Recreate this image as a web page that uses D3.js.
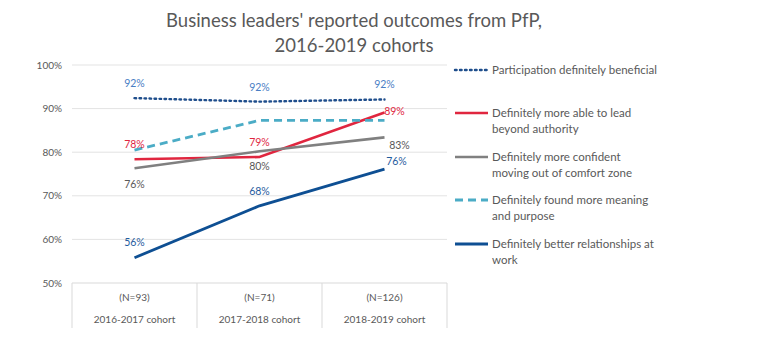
<!DOCTYPE html>
<html lang="en">
<head>
  <meta charset="UTF-8">
  <title>PfP outcomes</title>
  <style>
    html, body { margin: 0; padding: 0; background: #fff; }
    svg { font-family: Lato, "Open Sans", sans-serif; }
    .grid line { stroke: #e3e3e3; }
    .tick-label { fill: #595959; font-size: 10px; }
    .title { fill: #595959; font-size: 18.5px; }
    .cat { fill: #595959; font-size: 10px; }
    .legend text { fill: #595959; font-size: 11.5px; }
    .lbl { font-size: 10.5px; }
  </style>
</head>
<body>
  <script src="https://d3js.org/d3.v7.min.js"></script>
  <script>
    const width = 772, height = 363

    const cohorts = ['2016-2017 cohort', '2017-2018 cohort', '2018-2019 cohort']
    const sampleSizes = ['(N=93)', '(N=71)', '(N=126)']
    const yTicks = [0.5, 0.6, 0.7, 0.8, 0.9, 1.0]

    const beneficial = [0.924, 0.916, 0.921]
    const leadBeyond = [0.784, 0.789, 0.891]
    const confident = [0.763, 0.802, 0.834]
    const meaning = [0.805, 0.873, 0.873]
    const relationships = [0.558, 0.677, 0.761]

    const series = [
      { name: ['Participation definitely beneficial'], values: beneficial, color: '#1f4e8c', dash: '1.6 3.4', width: 2.4, cap: 'round',
        labelColor: '#4a7ec4', labels: [[0, -11], [0, -11], [0, -11]] },
      { name: ['Definitely more able to lead', 'beyond authority'], values: leadBeyond, color: '#e0263f', dash: null, width: 2.6,
        labelColor: '#e0263f', labels: [[0, -11], [0, -11], [10, 2]] },
      { name: ['Definitely more confident', 'moving out of comfort zone'], values: confident, color: '#808080', dash: null, width: 2.6,
        labelColor: '#595959', labels: [[0, 20], [0, 19], [15, 12]] },
      { name: ['Definitely found more meaning', 'and purpose'], values: meaning, color: '#4bacc6', dash: '8 5', width: 2.8,
        labelColor: '#4bacc6', labels: null },
      { name: ['Definitely better relationships at', 'work'], values: relationships, color: '#0e4f93', dash: null, width: 2.8,
        labelColor: '#1f5c9e', labels: [[0, -12], [0, -11], [12, -4]] }
    ]

    const plot = { left: 72, right: 447, top: 65, bottom: 283 }

    const x = d3.scaleBand().domain(cohorts).range([plot.left, plot.right])
    const y = d3.scaleLinear().domain([0.5, 1.0]).range([plot.bottom, plot.top])
    const cx = c => x(c) + x.bandwidth() / 2

    const svg = d3.select('body').append('svg')
      .attr('width', width)
      .attr('height', height)

    // title
    svg.append('text').attr('class', 'title').attr('text-anchor', 'middle')
      .attr('x', 354).attr('y', 27).text("Business leaders' reported outcomes from PfP,")
    svg.append('text').attr('class', 'title').attr('text-anchor', 'middle')
      .attr('x', 354).attr('y', 52).text('2016-2019 cohorts')

    // gridlines + y labels
    const grid = svg.append('g').attr('class', 'grid')
    grid.selectAll('line').data(yTicks).enter().append('line')
      .attr('x1', plot.left).attr('x2', plot.right)
      .attr('y1', d => y(d)).attr('y2', d => y(d))
      .style('stroke', d => d === 0.5 ? '#d9d9d9' : null)
    svg.append('g').selectAll('text').data(yTicks).enter().append('text')
      .attr('class', 'tick-label').attr('text-anchor', 'end')
      .attr('x', plot.left - 10).attr('y', d => y(d) + 3.5)
      .text(d3.format('.0%'))

    // category table
    const bounds = cohorts.map(c => x(c)).concat([plot.right])
    svg.append('g').selectAll('line').data(bounds).enter().append('line')
      .attr('x1', d => d).attr('x2', d => d)
      .attr('y1', plot.bottom).attr('y2', plot.bottom + 45)
      .style('stroke', '#d9d9d9')
    svg.append('g').selectAll('text').data(sampleSizes).enter().append('text')
      .attr('class', 'cat').attr('text-anchor', 'middle')
      .attr('x', (d, i) => cx(cohorts[i])).attr('y', plot.bottom + 18).text(d => d)
    svg.append('g').selectAll('text').data(cohorts).enter().append('text')
      .attr('class', 'cat').attr('text-anchor', 'middle')
      .attr('x', d => cx(d)).attr('y', plot.bottom + 40).text(d => d)

    // lines
    const line = d3.line().x((d, i) => cx(cohorts[i])).y(d => y(d))
    series.forEach(s => {
      svg.append('path').datum(s.values)
        .attr('d', line)
        .attr('fill', 'none')
        .attr('stroke', s.color)
        .attr('stroke-width', s.width)
        .attr('stroke-dasharray', s.dash)
        .attr('stroke-linecap', s.cap || 'butt')
    })

    // data labels
    series.filter(s => s.labels).forEach(s => {
      svg.append('g').selectAll('text').data(s.values).enter().append('text')
        .attr('class', 'lbl').attr('text-anchor', 'middle')
        .attr('fill', s.labelColor)
        .attr('x', (d, i) => cx(cohorts[i]) + s.labels[i][0])
        .attr('y', (d, i) => y(d) + s.labels[i][1])
        .text(d => d3.format('.0%')(d))
    })

    // legend
    const legendY = [70, 113, 157, 200, 244]
    const legend = svg.append('g').attr('class', 'legend')
    series.forEach((s, i) => {
      const g = legend.append('g').attr('transform', `translate(455,${legendY[i]})`)
      g.append('line').attr('x1', 0).attr('x2', 33).attr('y1', 0).attr('y2', 0)
        .attr('stroke', s.color).attr('stroke-width', s.width)
        .attr('stroke-dasharray', s.dash).attr('stroke-linecap', s.cap || 'butt')
      s.name.forEach((t, j) => {
        g.append('text').attr('x', 37).attr('y', 4 + j * 16).text(t)
      })
    })
  </script>
</body>
</html>
